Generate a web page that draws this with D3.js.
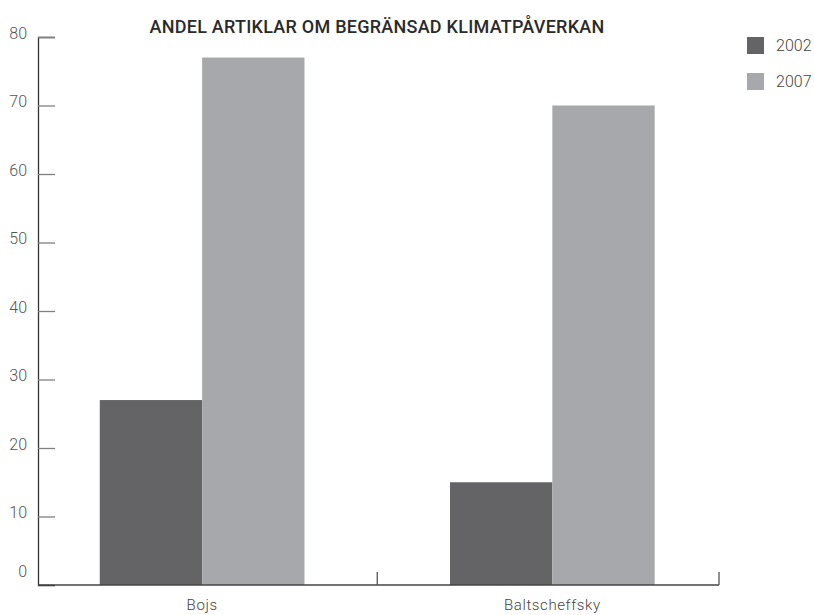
<!DOCTYPE html>
<html>
<head>
<meta charset="utf-8">
<script src="https://cdn.jsdelivr.net/npm/d3@7"></script>
<style>
  body { margin: 0; background: #fff; }
  svg { display: block; }
  text { font-family: Roboto, "DejaVu Sans", sans-serif; }
</style>
</head>
<body>
<svg id="chart" width="814" height="615"></svg>
<script>
const categories = ["Bojs", "Baltscheffsky"];
const seriesNames = ["2002", "2007"];
const values2002 = [27, 15];
const values2007 = [77, 70];
const yTicks = [0, 10, 20, 30, 40, 50, 60, 70, 80];
const title = "ANDEL ARTIKLAR OM BEGRÄNSAD KLIMATPÅVERKAN";
const colors = ["#646466", "#a7a8ac"];

const svg = d3.select("#chart");
const plotLeft = 38, plotRight = 719, plotTop = 37, plotBottom = 585;

const x = d3.scaleBand().domain(categories).range([plotLeft, plotRight])
  .paddingInner(0.4155).paddingOuter(0.18).align(0.49);
const xs = d3.scaleBand().domain(seriesNames).range([0, x.bandwidth()]);
const y = d3.scaleLinear().domain([0, 80]).range([plotBottom, plotTop]);

const seriesValues = [values2002, values2007];

// bars
seriesNames.forEach((s, si) => {
  svg.append("g").selectAll("rect")
    .data(categories.map((c, i) => ({c, v: seriesValues[si][i]})))
    .join("rect")
    .attr("x", d => x(d.c) + xs(s))
    .attr("y", d => y(d.v))
    .attr("width", xs.bandwidth())
    .attr("height", d => y(0) - y(d.v))
    .attr("fill", colors[si]);
});

// y axis
const yAxis = svg.append("g").attr("transform", `translate(${plotLeft},0)`)
  .call(d3.axisRight(y).tickValues(yTicks).tickSize(17).tickFormat(""));
yAxis.select(".domain").attr("stroke", "#333").attr("stroke-width", 1.3);
yAxis.selectAll(".tick line").attr("stroke", "#808080").attr("stroke-width", 1.3)
  .filter(d => d === 0).remove();
svg.append("g").selectAll("text").data(yTicks).join("text")
  .attr("x", 27).attr("y", d => y(d) - (d === 0 ? 14 : 4)).attr("dy", "0.35em")
  .attr("text-anchor", "end")
  .attr("font-size", 16).attr("font-weight", 300).attr("fill", "#555")
  .text(d => d);

// x axis
const seps = categories.map(c => x(c) + x.bandwidth() + x.step() * x.paddingInner() / 2);
seps[seps.length - 1] = plotRight;
svg.append("line").attr("x1", plotLeft).attr("x2", plotRight).attr("y1", plotBottom).attr("y2", plotBottom)
  .attr("stroke", "#444").attr("stroke-width", 1.3);
svg.append("g").selectAll("line").data(seps).join("line")
  .attr("x1", d => d).attr("x2", d => d).attr("y1", plotBottom).attr("y2", plotBottom - 13)
  .attr("stroke", "#555").attr("stroke-width", 1.3);
svg.append("g").selectAll("text").data(categories).join("text")
  .attr("x", d => x(d) + x.bandwidth() / 2).attr("y", 610)
  .attr("text-anchor", "middle")
  .attr("font-size", 15).attr("font-weight", 300).attr("letter-spacing", 0.6).attr("fill", "#444")
  .text(d => d);

// title
svg.append("text").attr("x", 377).attr("y", 33).attr("text-anchor", "middle")
  .attr("font-size", 18).attr("font-weight", 500).attr("letter-spacing", 0.25).attr("fill", "#2a2a2a")
  .text(title);

// legend
const lg = svg.append("g").selectAll("g").data(seriesNames).join("g")
  .attr("transform", (d, i) => `translate(747,${37 + i * 36})`);
lg.append("rect").attr("width", 17).attr("height", 17).attr("fill", (d, i) => colors[i]);
lg.append("text").attr("x", 29).attr("y", 8.5).attr("dy", "0.35em")
  .attr("font-size", 16).attr("font-weight", 300).attr("fill", "#444")
  .text(d => d);
</script>
</body>
</html>
